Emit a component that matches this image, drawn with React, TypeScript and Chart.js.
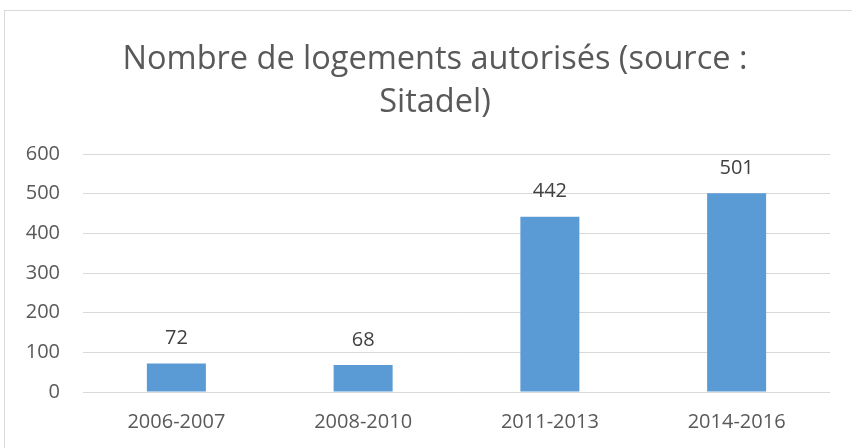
import React, { useEffect, useRef } from "react";
import { Chart, registerables } from "chart.js";

Chart.register(...registerables);

const categories = ["2006-2007", "2008-2010", "2011-2013", "2014-2016"];
const logements = [72, 68, 442, 501];
const titleLines = ["Nombre de logements autorisés (source :", "Sitadel)"];
const yMin = 0;
const yMax = 600;
const yStep = 100;

const FONT = "'Open Sans', sans-serif";

const valueLabels = {
  id: "valueLabels",
  afterDatasetsDraw(chart: any) {
    const ctx = chart.ctx;
    const meta = chart.getDatasetMeta(0);
    ctx.save();
    ctx.font = `20px ${FONT}`;
    ctx.fillStyle = "#404040";
    ctx.textAlign = "center";
    ctx.textBaseline = "middle";
    meta.data.forEach((bar: any, i: number) => {
      const v = chart.data.datasets[0].data[i];
      ctx.fillText(String(v), bar.x, bar.y - 25);
    });
    ctx.restore();
  },
};

const titlePlugin = {
  id: "wrappedTitle",
  afterDraw(chart: any) {
    const ctx = chart.ctx;
    ctx.save();
    ctx.font = `32.5px ${FONT}`;
    ctx.fillStyle = "#595959";
    ctx.textAlign = "center";
    ctx.textBaseline = "middle";
    titleLines.forEach((line, i) => {
      ctx.fillText(line, 435, 60 + i * 43);
    });
    ctx.restore();
  },
};

export default function App() {
  const ref = useRef<HTMLCanvasElement>(null);
  useEffect(() => {
    if (!ref.current) return;
    const chart = new Chart(ref.current, {
      type: "bar",
      data: {
        labels: categories,
        datasets: [
          {
            data: logements,
            backgroundColor: "#5B9BD5",
            borderWidth: 0,
            categoryPercentage: 1,
            barPercentage: 0.316,
          },
        ],
      },
      options: {
        animation: false,
        responsive: false,
        maintainAspectRatio: false,
        layout: { padding: { left: 0, right: 22, top: 154, bottom: 13 } },
        plugins: {
          legend: { display: false },
          tooltip: { enabled: false },
          title: { display: false },
        },
        scales: {
          x: {
            grid: { display: false, drawTicks: false },
            border: { display: false },
            ticks: {
              color: "#595959",
              font: { family: FONT, size: 20 },
              padding: 18,
              maxRotation: 0,
            },
            afterFit(scale: any) {
              scale.height = 43;
            },
          },
          y: {
            min: yMin,
            max: yMax,
            grid: { color: "#d9d9d9", lineWidth: 1, drawTicks: false },
            border: { display: false },
            ticks: {
              stepSize: yStep,
              color: "#595959",
              font: { family: FONT, size: 20 },
              padding: 23,
            },
            afterFit(scale: any) {
              scale.width = 83;
            },
          },
        },
      },
      plugins: [valueLabels, titlePlugin],
    });
    return () => chart.destroy();
  }, []);
  return (
    <div
      style={{
        position: "absolute",
        left: 0,
        top: 0,
        width: 852,
        height: 448,
        overflow: "hidden",
        background: "#ffffff",
      }}
    >
      <div
        style={{
          position: "absolute",
          left: 4,
          top: 10,
          width: 860,
          height: 480,
          border: "1px solid #d9d9d9",
          boxSizing: "border-box",
        }}
      />
      <canvas ref={ref} width={852} height={448} style={{ position: "absolute", left: 0, top: 0 }} />
    </div>
  );
}
